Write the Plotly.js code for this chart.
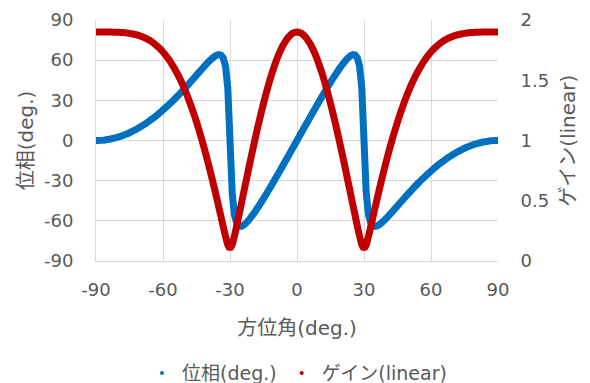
<!DOCTYPE html>
<html>
<head>
<meta charset="utf-8">
<script src="https://cdn.plot.ly/plotly-3.0.1.min.js"></script>
<style>html,body{margin:0;padding:0;background:#fff}#chart{width:590px;height:383px}</style>
</head>
<body>
<div id="chart"></div>
<script>
// Azimuth angle (deg.)
const azimuth = [
-90,-89,-88,-87,-86,-85,-84,-83,-82,-81,-80,-79,-78,-77,-76,-75,-74,-73,-72,-71,
-70,-69,-68,-67,-66,-65,-64,-63,-62,-61,-60,-59,-58,-57,-56,-55,-54,-53,-52,-51,
-50,-49,-48,-47,-46,-45,-44,-43,-42,-41,-40,-39,-38,-37,-36,-35,-34,-33,-32,-31,
-30,-29,-28,-27,-26,-25,-24,-23,-22,-21,-20,-19,-18,-17,-16,-15,-14,-13,-12,-11,
-10,-9,-8,-7,-6,-5,-4,-3,-2,-1,0,1,2,3,4,5,6,7,8,9,
10,11,12,13,14,15,16,17,18,19,20,21,22,23,24,25,26,27,28,29,
30,31,32,33,34,35,36,37,38,39,40,41,42,43,44,45,46,47,48,49,
50,51,52,53,54,55,56,57,58,59,60,61,62,63,64,65,66,67,68,69,
70,71,72,73,74,75,76,77,78,79,80,81,82,83,84,85,86,87,88,89,90];

// Phase (deg.)
const phase = [
0,0.0,0.1,0.2,0.4,0.7,0.9,1.3,1.7,2.1,2.6,3.1,3.7,4.4,5.1,5.8,6.6,7.5,8.3,9.3,
10.3,11.3,12.4,13.5,14.7,16.0,17.2,18.5,19.9,21.3,22.8,24.3,25.8,27.4,29.0,30.6,32.3,34.0,35.8,37.6,
39.4,41.2,43.1,45.0,46.9,48.8,50.7,52.6,54.4,56.3,58.1,59.7,61.3,62.6,63.7,64.2,63.7,61.5,55.4,39.2,
0,-39.5,-55.8,-61.8,-63.9,-64.1,-63.3,-62.0,-60.2,-58.2,-56.0,-53.7,-51.2,-48.7,-46.1,-43.4,-40.7,-37.9,-35.1,-32.3,
-29.4,-26.6,-23.6,-20.7,-17.8,-14.8,-11.9,-8.9,-6.0,-3.0,0,3.0,6.0,8.9,11.9,14.8,17.8,20.7,23.6,26.6,
29.4,32.3,35.1,37.9,40.7,43.4,46.1,48.7,51.2,53.7,56.0,58.2,60.2,62.0,63.3,64.1,63.9,61.8,55.8,39.5,
0,-39.2,-55.4,-61.5,-63.7,-64.2,-63.7,-62.6,-61.3,-59.7,-58.1,-56.3,-54.4,-52.6,-50.7,-48.8,-46.9,-45.0,-43.1,-41.2,
-39.4,-37.6,-35.8,-34.0,-32.3,-30.6,-29.0,-27.4,-25.8,-24.3,-22.8,-21.3,-19.9,-18.5,-17.2,-16.0,-14.7,-13.5,-12.4,-11.3,
-10.3,-9.3,-8.3,-7.5,-6.6,-5.8,-5.1,-4.4,-3.7,-3.1,-2.6,-2.1,-1.7,-1.3,-0.9,-0.7,-0.4,-0.2,-0.1,0.0,0];

// Gain (linear)
const gain = [
1.900,1.900,1.900,1.900,1.900,1.900,1.900,1.900,1.899,1.899,1.898,1.897,1.896,1.894,1.892,1.889,1.886,1.882,1.878,1.872,
1.866,1.859,1.851,1.841,1.831,1.819,1.805,1.790,1.773,1.755,1.735,1.712,1.688,1.662,1.633,1.602,1.569,1.534,1.495,1.455,
1.411,1.365,1.316,1.265,1.211,1.154,1.094,1.032,0.967,0.899,0.829,0.757,0.682,0.605,0.526,0.446,0.365,0.283,0.204,0.134,
0.100,0.135,0.207,0.291,0.379,0.468,0.557,0.646,0.735,0.823,0.909,0.994,1.076,1.156,1.233,1.308,1.379,1.446,1.510,1.570,
1.625,1.676,1.722,1.763,1.799,1.829,1.855,1.874,1.889,1.897,1.900,1.897,1.889,1.874,1.855,1.829,1.799,1.763,1.722,1.676,
1.625,1.570,1.510,1.446,1.379,1.308,1.233,1.156,1.076,0.994,0.909,0.823,0.735,0.646,0.557,0.468,0.379,0.291,0.207,0.135,
0.100,0.134,0.204,0.283,0.365,0.446,0.526,0.605,0.682,0.757,0.829,0.899,0.967,1.032,1.094,1.154,1.211,1.265,1.316,1.365,
1.411,1.455,1.495,1.534,1.569,1.602,1.633,1.662,1.688,1.712,1.735,1.755,1.773,1.790,1.805,1.819,1.831,1.841,1.851,1.859,
1.866,1.872,1.878,1.882,1.886,1.889,1.892,1.894,1.896,1.897,1.898,1.899,1.899,1.900,1.900,1.900,1.900,1.900,1.900,1.900,1.900];

const xTicks = [-90,-60,-30,0,30,60,90];
const xTickText = ["-90","-60","-30","0","30","60","90"];
const phaseTicks = [-90,-60,-30,0,30,60,90];
const phaseTickText = ["-90","-60","-30","0","30","60","90"];
const gainTicks = [0,0.5,1,1.5,2];
const gainTickText = ["0","0.5","1","1.5","2"];

const phaseName = "位相(deg.)";
const gainName = "ゲイン(linear)";
const xTitle = "方位角(deg.)";

const BLUE = "#0070C0", RED = "#C00000", GRID = "#d9d9d9", TXT = "#595959";
const FONT = "DejaVu Sans, Noto Sans CJK JP, sans-serif";

const traces = [
  {x: azimuth, y: phase, type: "scatter", mode: "lines", line: {color: BLUE, width: 7, simplify: false}, showlegend: false, hoverinfo: "skip", yaxis: "y"},
  {x: azimuth, y: phase, type: "scatter", mode: "markers", name: phaseName, marker: {color: BLUE, size: 4}, yaxis: "y"},
  {x: azimuth, y: gain, type: "scatter", mode: "lines", line: {color: RED, width: 7, simplify: false}, showlegend: false, hoverinfo: "skip", yaxis: "y2"},
  {x: azimuth, y: gain, type: "scatter", mode: "markers", name: gainName, marker: {color: RED, size: 4}, yaxis: "y2"}
];

const layout = {
  width: 590, height: 383,
  margin: {l: 96, r: 92, t: 20, b: 122, autoexpand: false},
  paper_bgcolor: "#fff", plot_bgcolor: "#fff",
  font: {family: FONT, size: 18, color: TXT},
  showlegend: true,
  legend: {orientation: "h", x: 0.5, xanchor: "center", xref: "paper", y: 0.026, yref: "container", yanchor: "middle", font: {size: 19, color: TXT}},
  xaxis: {
    range: [-90, 90], tickmode: "array", tickvals: xTicks, ticktext: xTickText,
    showgrid: true, gridcolor: GRID, gridwidth: 1, zeroline: false,
    showline: true, linecolor: GRID, linewidth: 1,
    ticks: "outside", ticklen: 12, tickcolor: "rgba(0,0,0,0)",
    tickfont: {size: 18, color: TXT}, automargin: false,
    title: {text: xTitle, font: {size: 20, color: TXT}, standoff: 22}
  },
  yaxis: {
    range: [-90, 90], tickmode: "array", tickvals: phaseTicks, ticktext: phaseTickText,
    showgrid: true, gridcolor: GRID, gridwidth: 1, zeroline: false,
    showline: true, linecolor: GRID, linewidth: 1,
    ticks: "outside", ticklen: 18, tickcolor: "rgba(0,0,0,0)",
    tickfont: {size: 18, color: TXT}, automargin: false,
    title: {text: phaseName, font: {size: 20, color: TXT}, standoff: 4}
  },
  yaxis2: {
    range: [0, 2], overlaying: "y", side: "right", tickmode: "array", tickvals: gainTicks, ticktext: gainTickText,
    showgrid: false, zeroline: false, showline: false,
    ticks: "outside", ticklen: 18, tickcolor: "rgba(0,0,0,0)",
    tickfont: {size: 18, color: TXT}, automargin: false,
    title: {text: gainName, font: {size: 20, color: TXT}, standoff: 12}
  }
};

Plotly.newPlot("chart", traces, layout, {displayModeBar: false, staticPlot: true});
</script>
</body>
</html>
